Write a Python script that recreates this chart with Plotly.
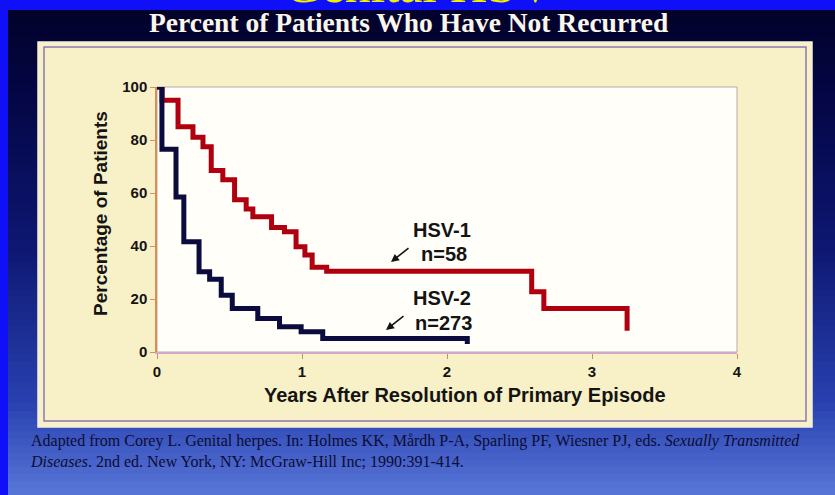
import plotly.graph_objects as go

# ---------------- data ----------------
hsv1_years = [0, 0.035, 0.145, 0.248, 0.317, 0.374, 0.454, 0.535, 0.615, 0.661,
              0.79, 0.879, 0.959, 1.02, 1.07, 1.17, 2.584, 2.668, 3.242]
hsv1_pct = [100, 95, 85, 81, 77.5, 68.5, 65, 57.5, 54, 51,
            47, 45.4, 39.7, 36.6, 32, 30.5, 22.7, 16.4, 8]

hsv2_years = [0, 0.034, 0.131, 0.185, 0.29, 0.363, 0.443, 0.519, 0.695, 0.845,
              0.994, 1.143, 2.14]
hsv2_pct = [100, 76.5, 58.5, 41.6, 30.3, 27.5, 21.4, 16.4, 12.6, 9.5,
            7.6, 5.1, 3]

x_ticks = [0, 1, 2, 3, 4]
y_ticks = [0, 20, 40, 60, 80, 100]

series_labels = ["HSV-1", "HSV-2"]
series_n = ["n=58", "n=273"]

slide_title = "Genital HSV"
chart_title = "Percent of Patients Who Have Not Recurred"
x_title = "Years After Resolution of Primary Episode"
y_title = "Percentage of Patients"
citation = ("Adapted from Corey L. Genital herpes. In: Holmes KK, Mårdh P-A, Sparling PF, "
            "Wiesner PJ, eds. <i>Sexually Transmitted</i><br><i>Diseases</i>. 2nd ed. New York, NY: "
            "McGraw-Hill Inc; 1990:391-414.")

# ---------------- geometry helpers (pixel -> paper) ----------------
W, H = 835, 495
L, R, T, B = 157, 737, 87, 352


def px(x):
    return (x - L) / (R - L)


def py(y):
    return (B - y) / (B - T)


# ---------------- background shapes ----------------
shapes = []
stops = [(0, (2, 2, 40)), (100, (4, 6, 70)), (250, (14, 24, 115)),
         (400, (40, 64, 175)), (495, (88, 118, 215))]


def col_at(y):
    for (y0, c0), (y1, c1) in zip(stops[:-1], stops[1:]):
        if y0 <= y <= y1:
            t = (y - y0) / (y1 - y0)
            return "rgb(%d,%d,%d)" % tuple(round(a + (b - a) * t) for a, b in zip(c0, c1))
    return "rgb(%d,%d,%d)" % stops[-1][1]


n_strips = 70
for i in range(n_strips):
    y0 = H * i / n_strips
    y1 = H * (i + 1) / n_strips + 0.6
    shapes.append(dict(type="rect", xref="paper", yref="paper", layer="below",
                       x0=px(-2), x1=px(W + 2), y0=py(y0), y1=py(y1),
                       line=dict(width=0), fillcolor=col_at((y0 + y1) / 2)))

# bright blue top band and left stripe
shapes.append(dict(type="rect", xref="paper", yref="paper", layer="below",
                   x0=px(-2), x1=px(W + 2), y0=py(-2), y1=py(10),
                   line=dict(width=0), fillcolor="#1010f8"))
shapes.append(dict(type="rect", xref="paper", yref="paper", layer="below",
                   x0=px(-2), x1=px(8), y0=py(-2), y1=py(H + 2),
                   line=dict(width=0), fillcolor="#1010f8"))

# beige panel with double border
shapes.append(dict(type="rect", xref="paper", yref="paper", layer="below",
                   x0=px(38), x1=px(812), y0=py(42), y1=py(427),
                   line=dict(width=1.5, color="#f4eee0"), fillcolor="#f8f0c6"))
shapes.append(dict(type="rect", xref="paper", yref="paper", layer="below",
                   x0=px(44), x1=px(806), y0=py(47), y1=py(421),
                   line=dict(width=1.5, color="#8a78b0"), fillcolor="rgba(0,0,0,0)"))
# plot area
shapes.append(dict(type="rect", xref="paper", yref="paper", layer="below",
                   x0=0, x1=1, y0=0, y1=1,
                   line=dict(width=1, color="#b8a8b0"), fillcolor="#fffef9"))

# ---------------- traces ----------------
fig = go.Figure()
fig.add_trace(go.Scatter(x=hsv1_years, y=hsv1_pct, mode="lines", name=series_labels[0],
                         line=dict(shape="hv", color="#b00010", width=5),
                         cliponaxis=False, showlegend=False))
fig.add_trace(go.Scatter(x=hsv2_years, y=hsv2_pct, mode="lines", name=series_labels[1],
                         line=dict(shape="hv", color="#0b0b3e", width=5),
                         cliponaxis=False, showlegend=False))

bold_sans = dict(family="Liberation Sans, Arial, sans-serif", color="#141414", weight="bold")

annotations = [
    dict(text=slide_title, x=px(419), y=py(15), xanchor="center", yanchor="bottom",
         font=dict(family="Liberation Serif, serif", size=52, color="#f0f000")),
    dict(text=chart_title, x=px(408), y=py(22), xanchor="center", yanchor="middle",
         font=dict(family="Liberation Serif, serif", size=27.5, color="#fbf6ea", weight="bold")),
    dict(text=y_title, x=px(100), y=py(214), textangle=-90, xanchor="center", yanchor="middle",
         font=dict(size=19, **bold_sans)),
    dict(text=x_title, x=px(465), y=py(395), xanchor="center", yanchor="middle",
         font=dict(size=20, **bold_sans)),
    dict(text=series_labels[0], x=px(442), y=py(230), xanchor="center", yanchor="middle",
         font=dict(size=20, **bold_sans)),
    dict(text=series_n[0], x=px(444), y=py(254), xanchor="center", yanchor="middle",
         font=dict(size=20, **bold_sans)),
    dict(text=series_labels[1], x=px(442), y=py(298), xanchor="center", yanchor="middle",
         font=dict(size=20, **bold_sans)),
    dict(text=series_n[1], x=px(443), y=py(323), xanchor="center", yanchor="middle",
         font=dict(size=20, **bold_sans)),
    dict(text=citation, x=px(28), y=py(451), xanchor="left", yanchor="middle", align="left",
         font=dict(family="Liberation Serif, serif", size=16, color="#0c0c34")),
]
# pointer arrows
for hx, hy in [(391, 262), (386, 330)]:
    annotations.append(dict(text="", x=px(hx), y=py(hy), showarrow=True,
                            ax=19, ay=-15, arrowhead=2, arrowsize=1, arrowwidth=1.6,
                            arrowcolor="#141414"))

for a in annotations:
    a.setdefault("xref", "paper")
    a.setdefault("yref", "paper")
    a.setdefault("showarrow", False)

tickfont = dict(size=15, **bold_sans)
fig.update_layout(
    width=W, height=H,
    margin=dict(l=L, r=W - R, t=T, b=H - B, pad=0),
    paper_bgcolor="#000030",
    plot_bgcolor="rgba(0,0,0,0)",
    shapes=shapes,
    annotations=annotations,
    xaxis=dict(range=[0, 4], tickvals=x_ticks, ticks="outside", ticklen=5, tickwidth=1,
               tickcolor="#c09070", showline=True, linecolor="#d4a8c8", linewidth=1.5,
               showgrid=False, zeroline=False, tickfont=tickfont, fixedrange=True),
    yaxis=dict(range=[0, 100], tickvals=y_ticks, ticks="outside", ticklen=5, tickwidth=1,
               tickcolor="#d89060", showline=True, linecolor="#d89050", linewidth=1.5,
               showgrid=False, zeroline=False, tickfont=tickfont, fixedrange=True),
)

fig.write_html("out.html", config={"displayModeBar": False},
               post_script="document.body.style.margin='0';document.body.style.padding='0';")
